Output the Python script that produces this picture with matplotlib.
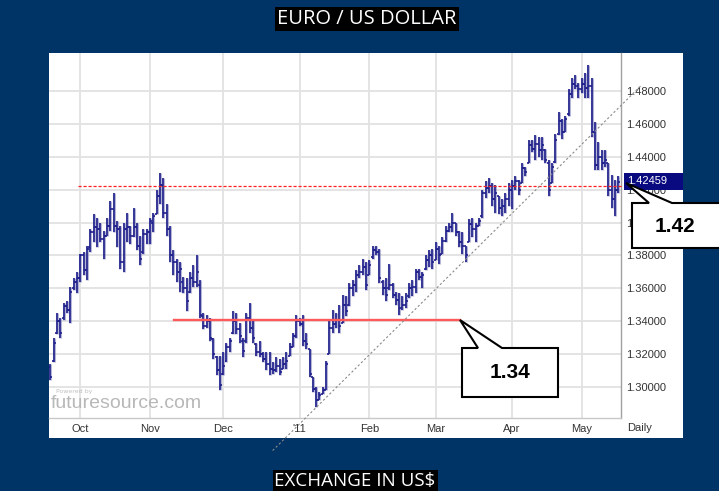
import matplotlib
matplotlib.use("Agg")
import matplotlib.pyplot as plt
from matplotlib.patches import Rectangle, Polygon
import pandas as pd

# ---------------- data ----------------
start_date = "2010-09-20"

highs = [
    1.314, 1.330, 1.345, 1.342, 1.351, 1.352, 1.361, 1.366, 1.370, 1.381,
    1.382, 1.386, 1.396, 1.405, 1.403, 1.400, 1.395, 1.403, 1.413, 1.418,
    1.401, 1.398, 1.400, 1.406, 1.398, 1.409, 1.400, 1.392, 1.396, 1.396,
    1.403, 1.406, 1.420, 1.430, 1.427, 1.411, 1.398, 1.383, 1.378, 1.376,
    1.367, 1.366, 1.370, 1.374, 1.380, 1.365, 1.345, 1.344, 1.342, 1.330,
    1.319, 1.319, 1.321, 1.327, 1.330, 1.346, 1.345, 1.339, 1.330, 1.345,
    1.351, 1.341, 1.327, 1.328, 1.321, 1.321, 1.321, 1.315, 1.318, 1.317,
    1.318, 1.321, 1.327, 1.333, 1.344, 1.342, 1.344, 1.333, 1.323, 1.306,
    1.300, 1.297, 1.300, 1.316, 1.341, 1.347, 1.345, 1.350, 1.356, 1.355,
    1.363, 1.365, 1.371, 1.374, 1.378, 1.376, 1.377, 1.386, 1.386, 1.384,
    1.365, 1.366, 1.375, 1.363, 1.358, 1.357, 1.355, 1.357, 1.363, 1.365,
    1.372, 1.372, 1.370, 1.380, 1.383, 1.384, 1.388, 1.386, 1.391, 1.398,
    1.400, 1.406, 1.400, 1.395, 1.394, 1.386, 1.402, 1.403, 1.400, 1.403,
    1.420, 1.425, 1.427, 1.424, 1.423, 1.416, 1.414, 1.418, 1.424, 1.426,
    1.428, 1.426, 1.436, 1.434, 1.450, 1.450, 1.453, 1.452, 1.452, 1.445,
    1.438, 1.436, 1.454, 1.467, 1.463, 1.465, 1.481, 1.488, 1.490, 1.485,
    1.488, 1.491, 1.496, 1.488, 1.461, 1.449, 1.444, 1.444, 1.436, 1.429,
    1.426, 1.428,
]
lows = [
    1.304, 1.315, 1.332, 1.330, 1.341, 1.345, 1.339, 1.359, 1.357, 1.364,
    1.368, 1.365, 1.382, 1.388, 1.385, 1.388, 1.378, 1.392, 1.395, 1.394,
    1.385, 1.372, 1.370, 1.388, 1.387, 1.391, 1.383, 1.374, 1.381, 1.387,
    1.387, 1.394, 1.405, 1.411, 1.403, 1.392, 1.376, 1.368, 1.364, 1.358,
    1.357, 1.346, 1.357, 1.361, 1.361, 1.342, 1.335, 1.336, 1.328, 1.317,
    1.307, 1.298, 1.307, 1.315, 1.321, 1.332, 1.332, 1.327, 1.318, 1.327,
    1.333, 1.327, 1.319, 1.318, 1.315, 1.310, 1.307, 1.308, 1.309, 1.307,
    1.311, 1.311, 1.319, 1.324, 1.330, 1.337, 1.325, 1.323, 1.306, 1.297,
    1.288, 1.292, 1.296, 1.298, 1.320, 1.333, 1.336, 1.333, 1.339, 1.343,
    1.349, 1.355, 1.358, 1.366, 1.368, 1.359, 1.368, 1.378, 1.380, 1.363,
    1.356, 1.352, 1.359, 1.354, 1.350, 1.344, 1.347, 1.348, 1.354, 1.355,
    1.357, 1.365, 1.360, 1.371, 1.373, 1.372, 1.377, 1.375, 1.381, 1.388,
    1.394, 1.394, 1.392, 1.385, 1.381, 1.376, 1.388, 1.391, 1.388, 1.398,
    1.403, 1.415, 1.418, 1.410, 1.406, 1.405, 1.404, 1.406, 1.410, 1.408,
    1.420, 1.417, 1.424, 1.428, 1.436, 1.443, 1.438, 1.440, 1.438, 1.436,
    1.416, 1.424, 1.436, 1.453, 1.451, 1.455, 1.465, 1.476, 1.481, 1.476,
    1.479, 1.476, 1.476, 1.452, 1.432, 1.432, 1.432, 1.434, 1.416, 1.409,
    1.404, 1.418,
]
opens = [
    1.312, 1.316, 1.333, 1.340, 1.342, 1.349, 1.347, 1.360, 1.364, 1.366,
    1.380, 1.371, 1.385, 1.394, 1.397, 1.396, 1.390, 1.392, 1.398, 1.408,
    1.398, 1.396, 1.376, 1.396, 1.397, 1.392, 1.397, 1.386, 1.382, 1.393,
    1.394, 1.400, 1.405, 1.416, 1.423, 1.406, 1.396, 1.380, 1.376, 1.370,
    1.364, 1.360, 1.358, 1.366, 1.364, 1.362, 1.343, 1.337, 1.340, 1.329,
    1.318, 1.310, 1.308, 1.316, 1.324, 1.333, 1.340, 1.335, 1.328, 1.328,
    1.342, 1.336, 1.326, 1.321, 1.320, 1.317, 1.314, 1.311, 1.310, 1.313,
    1.311, 1.314, 1.319, 1.324, 1.331, 1.340, 1.338, 1.328, 1.323, 1.306,
    1.299, 1.292, 1.296, 1.298, 1.320, 1.336, 1.338, 1.341, 1.339, 1.350,
    1.350, 1.360, 1.362, 1.368, 1.370, 1.373, 1.368, 1.379, 1.383, 1.382,
    1.364, 1.360, 1.360, 1.362, 1.356, 1.353, 1.348, 1.350, 1.355, 1.360,
    1.361, 1.370, 1.367, 1.372, 1.377, 1.380, 1.377, 1.384, 1.381, 1.389,
    1.395, 1.397, 1.400, 1.394, 1.388, 1.386, 1.388, 1.399, 1.396, 1.398,
    1.404, 1.418, 1.421, 1.422, 1.414, 1.416, 1.409, 1.410, 1.414, 1.420,
    1.422, 1.425, 1.424, 1.433, 1.436, 1.447, 1.445, 1.448, 1.444, 1.444,
    1.436, 1.424, 1.437, 1.454, 1.462, 1.455, 1.466, 1.478, 1.484, 1.483,
    1.481, 1.484, 1.482, 1.483, 1.455, 1.435, 1.440, 1.436, 1.436, 1.420,
    1.414, 1.420,
]
closes = [
    1.306, 1.327, 1.340, 1.333, 1.349, 1.347, 1.358, 1.364, 1.366, 1.380,
    1.371, 1.384, 1.394, 1.397, 1.396, 1.390, 1.392, 1.398, 1.408, 1.398,
    1.396, 1.376, 1.396, 1.397, 1.392, 1.397, 1.386, 1.378, 1.393, 1.394,
    1.401, 1.404, 1.416, 1.423, 1.406, 1.396, 1.380, 1.376, 1.370, 1.372,
    1.360, 1.352, 1.366, 1.364, 1.370, 1.344, 1.337, 1.340, 1.330, 1.320,
    1.310, 1.301, 1.313, 1.324, 1.328, 1.340, 1.335, 1.331, 1.322, 1.342,
    1.336, 1.330, 1.321, 1.320, 1.317, 1.314, 1.311, 1.310, 1.313, 1.309,
    1.314, 1.316, 1.324, 1.331, 1.340, 1.338, 1.328, 1.326, 1.308, 1.299,
    1.292, 1.295, 1.298, 1.314, 1.336, 1.338, 1.341, 1.337, 1.350, 1.346,
    1.360, 1.362, 1.368, 1.370, 1.373, 1.362, 1.374, 1.383, 1.382, 1.366,
    1.360, 1.356, 1.362, 1.356, 1.353, 1.348, 1.350, 1.352, 1.360, 1.361,
    1.370, 1.367, 1.368, 1.377, 1.380, 1.376, 1.384, 1.380, 1.389, 1.395,
    1.397, 1.400, 1.394, 1.388, 1.386, 1.380, 1.399, 1.396, 1.398, 1.401,
    1.418, 1.421, 1.422, 1.414, 1.418, 1.409, 1.410, 1.414, 1.420, 1.422,
    1.425, 1.420, 1.433, 1.431, 1.447, 1.445, 1.448, 1.444, 1.447, 1.438,
    1.420, 1.434, 1.450, 1.462, 1.455, 1.463, 1.478, 1.484, 1.483, 1.481,
    1.484, 1.482, 1.483, 1.455, 1.435, 1.440, 1.436, 1.438, 1.420, 1.414,
    1.420, 1.42459,
]

month_labels = ["Oct", "Nov", "Dec", "'11", "Feb", "Mar", "Apr", "May"]
y_ticks = [1.30, 1.32, 1.34, 1.36, 1.38, 1.40, 1.42, 1.44, 1.46, 1.48]
last_price = 1.42459

resistance_level = 1.4222          # red dotted line
resistance_from = 8.3               # bar index where it starts
support_level = 1.3405              # red solid line
support_span = [37.2, 123.3]        # bar index range
trend_x = [66.9, 177.7]             # dashed trend line end points (bar index)
trend_y = [1.2613, 1.4830]

callout_top = "1.42"
callout_bottom = "1.34"
title_text = "EURO / US DOLLAR"
bottom_text = "EXCHANGE IN US$"

# ---------------- figure ----------------
W, H = 719, 491
fig = plt.figure(figsize=(W / 100, H / 100), dpi=100)
fig.patch.set_facecolor("#003366")

AXFONT = ["Liberation Sans", "DejaVu Sans"]
NARROW = ["Liberation Sans Narrow", "Liberation Sans", "DejaVu Sans"]


def fx(x):
    return x / W


def fy(y):
    return 1 - y / H


# white chart panel
fig.patches.append(Rectangle((fx(49), fy(438)), (683 - 49) / W, (438 - 53) / H,
                             transform=fig.transFigure, facecolor="white",
                             edgecolor="none", zorder=-5))

ax = fig.add_axes([fx(49), fy(418), (621 - 49) / W, (418 - 53) / H])
ax.set_facecolor("white")

n = len(highs)
dates = pd.bdate_range(start_date, periods=n)
idx = list(range(n))

# first bar of each month
month_pos = []
prev = None
for i, d in enumerate(dates):
    if prev is not None and d.month != prev:
        month_pos.append(i)
    prev = d.month

ax.set_xlim(-0.45, 171.8)
ax.set_ylim(1.2811, 1.5031)

bar_col = "#20208c"
tick_w = 0.6
ax.vlines(idx, lows, highs, color="#7a7ab8", lw=2.2, zorder=2.8, alpha=0.55)
ax.vlines(idx, lows, highs, color=bar_col, lw=1.2, zorder=3)
ax.hlines(opens, [i - tick_w for i in idx], idx, color=bar_col, lw=1.2, zorder=3)
ax.hlines(closes, idx, [i + tick_w for i in idx], color=bar_col, lw=1.2, zorder=3)

# grid and axes
ax.set_yticks(y_ticks)
ax.set_yticklabels([f"{v:.5f}" for v in y_ticks])
ax.set_xticks(month_pos[:len(month_labels)])
ax.set_xticklabels(month_labels)
ax.grid(True, color="#e2e2e2", lw=1.3)
ax.set_axisbelow(True)
ax.yaxis.tick_right()
ax.tick_params(axis="y", length=0, pad=4, labelsize=8, labelcolor="#333333")
ax.tick_params(axis="x", length=0, pad=4.5, labelsize=8, labelcolor="#333333")
for lab in ax.get_yticklabels():
    lab.set_family(AXFONT)
for lab in ax.get_xticklabels():
    lab.set_family(NARROW)

for s in ["top", "left"]:
    ax.spines[s].set_visible(False)
ax.spines["right"].set_color("#a0a0a0")
ax.spines["right"].set_linewidth(1.0)
ax.spines["bottom"].set_color("#c8c8c8")
ax.spines["bottom"].set_linewidth(1.0)

fig.text(fx(640), fy(428), "Daily", ha="center", va="center", fontsize=8,
         color="#333333", family=NARROW)

# reference lines
ax.plot([resistance_from, 172.3], [resistance_level, resistance_level], color="#ff2020",
        lw=0.9, ls=(0, (2.5, 1.5)), zorder=4, clip_on=False)
ax.plot(support_span, [support_level, support_level], color="#ff5a5a", lw=1.7, zorder=4)
ax.plot(trend_x, trend_y, color="#8a8a8a", lw=0.8, ls=(0, (2, 2)), zorder=4, clip_on=False)

# watermark
fig.text(fx(56), fy(392), "Powered by", fontsize=4.5, color="#c0c0c0", va="center")
fig.text(fx(51), fy(404), "futuresource.com", fontsize=14, color="#b8b8b8", va="center",
         family=AXFONT)

# last price label
fig.patches.append(Rectangle((fx(624), fy(190)), (683 - 624) / W, (190 - 173) / H,
                             transform=fig.transFigure, facecolor="#0a0a80",
                             edgecolor="none", zorder=5))
fig.text(fx(627), fy(181.5), f"{last_price:.5f}", fontsize=8, color="white", va="center",
         zorder=6, family=AXFONT)


def callout(points, text, tx, ty):
    poly = Polygon([(fx(x), fy(y)) for x, y in points], closed=True,
                   transform=fig.transFigure, facecolor="white", edgecolor="black",
                   lw=1.5, zorder=7)
    fig.patches.append(poly)
    fig.text(fx(tx), fy(ty), text, ha="center", va="center", fontsize=15,
             fontweight="bold", color="black", zorder=8, family=AXFONT)


callout([(632, 203), (649, 203), (626, 183), (672, 203), (730, 203), (730, 248), (632, 248)],
        callout_top, 675, 226)
callout([(462, 348), (478, 348), (460, 320), (502, 348), (558, 348), (558, 397), (462, 397)],
        callout_bottom, 510, 372)

# titles
fig.text(fx(367), fy(19), title_text, ha="center", va="center", fontsize=14.5, color="white",
         family=["Open Sans", "DejaVu Sans"],
         bbox=dict(facecolor="black", edgecolor="none", boxstyle="square,pad=0.12"))
fig.text(fx(355), fy(481), bottom_text, ha="center", va="center", fontsize=13.5, color="white",
         family=["Open Sans", "DejaVu Sans"],
         bbox=dict(facecolor="black", edgecolor="none", boxstyle="square,pad=0.1"))

fig.savefig("out.png", dpi=100, facecolor=fig.get_facecolor())
